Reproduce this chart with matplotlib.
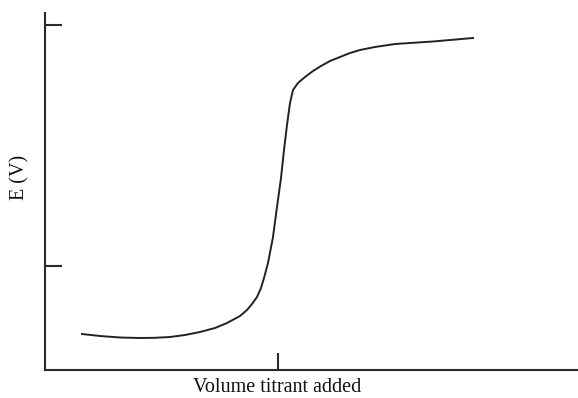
import matplotlib
matplotlib.use("Agg")
import matplotlib.pyplot as plt

# titration curve (arbitrary units)
volume = [37, 55, 75, 95, 110, 125, 140, 155, 170, 182, 195, 202, 207, 212,
          216, 219, 223, 228, 232, 236, 239, 242, 245, 248, 253, 260, 268,
          276, 285, 295, 305, 315, 330, 350, 388, 428]
potential = [36, 34, 32.5, 32, 32.2, 33, 35, 38, 42, 47, 54, 60, 66, 73,
             82, 92, 107, 133, 163, 192, 220, 245, 267, 280, 287, 293, 299,
             304, 309, 313, 317, 320, 323, 326, 328.5, 332]

x_ticks = [233]
y_ticks = [104, 345]

INK = "#2a2a2a"

plt.rcParams["font.family"] = ["Liberation Serif", "DejaVu Serif"]

fig = plt.figure(figsize=(5.78, 3.98), dpi=100)
ax = fig.add_axes([45 / 578, 28 / 398, 533 / 578, 357 / 398])

ax.plot(volume, potential, color="#222222", lw=1.4, solid_joinstyle="round")

ax.set_xlim(0, 533)
ax.set_ylim(0, 357)
ax.set_xticks(x_ticks)
ax.set_yticks(y_ticks)
ax.set_xticklabels([])
ax.set_yticklabels([])
ax.tick_params(direction="in", length=12, width=1.5, color=INK)

for s in ("top", "right"):
    ax.spines[s].set_visible(False)
for s in ("left", "bottom"):
    ax.spines[s].set_color(INK)
    ax.spines[s].set_linewidth(1.5)

ax.set_xlabel("Volume titrant added", fontsize=14.5, color="#111111")
ax.xaxis.set_label_coords(0.435, -0.05)
ax.xaxis.label.set_va("center")
ax.set_ylabel("E (V)", fontsize=14.5, color="#111111")
ax.yaxis.set_label_coords(-0.047, 0.54)
ax.yaxis.label.set_va("center")

fig.savefig("out.png", dpi=100, facecolor="white")
